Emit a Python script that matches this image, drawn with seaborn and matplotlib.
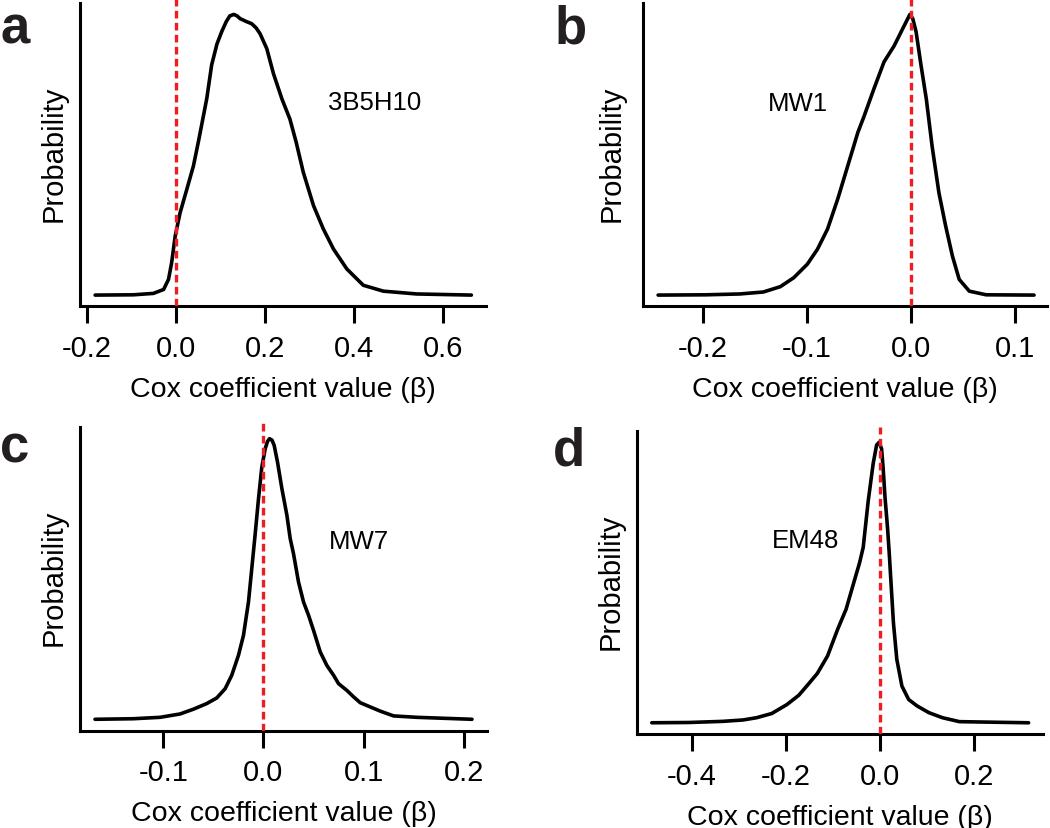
import matplotlib
matplotlib.use("Agg")
import matplotlib.pyplot as plt
import seaborn as sns
import pandas as pd

# density curves (y normalised to peak = 1)
a_x = [-0.182, -0.096, -0.051, -0.028, -0.017, -0.010, -0.002, 0.009, 0.024, 0.039, 0.050, 0.058,
       0.069, 0.080, 0.092, 0.103, 0.113, 0.121, 0.130, 0.137, 0.144, 0.159, 0.170, 0.180, 0.189,
       0.204, 0.219, 0.238, 0.256, 0.270, 0.286, 0.309, 0.331, 0.354, 0.384, 0.421, 0.466, 0.541,
       0.664]
a_y = [0.0, 0.001, 0.006, 0.020, 0.056, 0.115, 0.210, 0.293, 0.376, 0.460, 0.545, 0.610,
       0.700, 0.820, 0.895, 0.940, 0.975, 0.995, 1.0, 0.995, 0.985, 0.974, 0.967, 0.952, 0.931,
       0.878, 0.789, 0.699, 0.627, 0.545, 0.438, 0.319, 0.236, 0.164, 0.093, 0.035, 0.014, 0.004,
       0.0]

b_x = [-0.2428, -0.1968, -0.1643, -0.1417, -0.1254, -0.1125, -0.0995, -0.0898, -0.0801, -0.0703,
       -0.0606, -0.0509, -0.0452, -0.0355, -0.0258, -0.0161, -0.0079, -0.0030, -0.0010, 0.0018,
       0.0050, 0.0098, 0.0148, 0.0204, 0.0269, 0.0334, 0.0399, 0.0464, 0.0561, 0.0723, 0.1183]
b_y = [0.0, 0.001, 0.004, 0.011, 0.030, 0.062, 0.110, 0.163, 0.235, 0.342,
       0.461, 0.580, 0.635, 0.735, 0.831, 0.888, 0.949, 0.985, 1.0, 0.985,
       0.938, 0.817, 0.699, 0.530, 0.365, 0.246, 0.139, 0.056, 0.014, 0.001, 0.0]

c_x = [-0.1683, -0.130, -0.1033, -0.0833, -0.070, -0.0567, -0.0467, -0.0383, -0.0317, -0.025,
       -0.020, -0.015, -0.0117, -0.0083, -0.005, -0.0017, 0.0017, 0.0040, 0.0060, 0.0085, 0.0107,
       0.014, 0.0184, 0.0234, 0.0267, 0.030, 0.035, 0.040, 0.045, 0.050, 0.0567, 0.0633, 0.070,
       0.075, 0.0833, 0.090, 0.0967, 0.1067, 0.1167, 0.130, 0.1533, 0.2083]
c_y = [0.0, 0.002, 0.007, 0.019, 0.036, 0.056, 0.076, 0.109, 0.157, 0.228,
       0.299, 0.418, 0.537, 0.660, 0.785, 0.898, 0.964, 0.990, 1.0, 0.995, 0.976,
       0.917, 0.822, 0.727, 0.644, 0.590, 0.489, 0.418, 0.371, 0.317, 0.240, 0.192, 0.157,
       0.127, 0.103, 0.080, 0.059, 0.044, 0.029, 0.012, 0.007, 0.0]

d_x = [-0.4847, -0.4057, -0.3339, -0.2908, -0.2621, -0.2298, -0.1975, -0.1724, -0.1544, -0.1329,
       -0.1113, -0.0898, -0.0718, -0.0575, -0.0431, -0.0355, -0.0249, -0.0142, -0.0070, -0.0015,
       0.0036, 0.0070, 0.0106, 0.0164, 0.0198, 0.0287, 0.0359, 0.0467, 0.0610, 0.0790, 0.1041,
       0.1329, 0.1688, 0.2406, 0.3160]
d_y = [0.0, 0.001, 0.005, 0.010, 0.018, 0.033, 0.065, 0.098, 0.133, 0.176,
       0.238, 0.333, 0.405, 0.488, 0.571, 0.625, 0.790, 0.925, 0.990, 1.0,
       0.976, 0.905, 0.809, 0.690, 0.605, 0.357, 0.226, 0.131, 0.083, 0.060, 0.036,
       0.018, 0.004, 0.002, 0.0]

panel_letters = ["a", "b", "c", "d"]
antibodies = ["3B5H10", "MW1", "MW7", "EM48"]
ticks_a = [-0.2, 0.0, 0.2, 0.4, 0.6]
ticks_b = [-0.2, -0.1, 0.0, 0.1]
ticks_c = [-0.1, 0.0, 0.1, 0.2]
ticks_d = [-0.4, -0.2, 0.0, 0.2]

sns.set_theme(style="ticks")
plt.rcParams["font.family"] = ["Liberation Sans", "DejaVu Sans"]

fig = plt.figure(figsize=(10.5, 8.29), dpi=100)

panels = [
    # x, y, ticks, xlim, axes rect, antibody label pos, ylabel pad
    (a_x, a_y, ticks_a, (-0.216, 0.697), [0.0762, 0.6293, 0.3867, 0.3707], (0.342, 0.688), 9),
    (b_x, b_y, ticks_b, (-0.257, 0.131), [0.6127, 0.6293, 0.3847, 0.3707], (-0.137, 0.685), 13),
    (c_x, c_y, ticks_c, (-0.1833, 0.2233), [0.0762, 0.1176, 0.3876, 0.3706], (0.065, 0.637), 9),
    (d_x, d_y, ticks_d, (-0.5156, 0.3469), [0.6069, 0.1134, 0.3866, 0.3706], (-0.2305, 0.651), 9),
]
letter_pos = [(0.0, 0.948), (0.528, 0.948), (0.0, 0.4415), (0.527, 0.439)]

for i, (xs, ys, ticks, xlim, rect, lab, ypad) in enumerate(panels):
    ax = fig.add_axes(rect)
    df = pd.DataFrame({"beta": xs, "prob": ys})
    sns.lineplot(data=df, x="beta", y="prob", ax=ax, color="black", lw=2.6, sort=False)
    ax.axvline(0, color="#ee1d23", lw=2.4, ls=(0, (2.3, 1.3)), zorder=3)
    ax.set_xlim(*xlim)
    ax.set_ylim(-0.04, 1.055)
    sns.despine(ax=ax)
    ax.spines["left"].set_bounds(-0.04, 1.04)
    for s in ["left", "bottom"]:
        ax.spines[s].set_linewidth(2.2)
        ax.spines[s].set_color("black")
    ax.set_yticks([])
    ax.set_xticks(ticks)
    ax.set_xticklabels([f"{t:.1f}" for t in ticks])
    ax.tick_params(axis="x", direction="out", length=12, width=2.2, pad=8,
                   labelsize=21, color="black", labelcolor="black")
    ax.set_xlabel("Cox coefficient value (\u03b2)", fontsize=20.5, labelpad=10, color="black")
    ax.set_ylabel("Probability", fontsize=21, labelpad=ypad, color="black")
    ax.text(lab[0], lab[1], antibodies[i], fontsize=18.5, ha="left", va="center", color="black")
    fig.text(letter_pos[i][0], letter_pos[i][1], panel_letters[i], fontsize=38,
             fontweight="bold", ha="left", va="baseline", color="#231f20")

fig.savefig("out.png", dpi=100)
